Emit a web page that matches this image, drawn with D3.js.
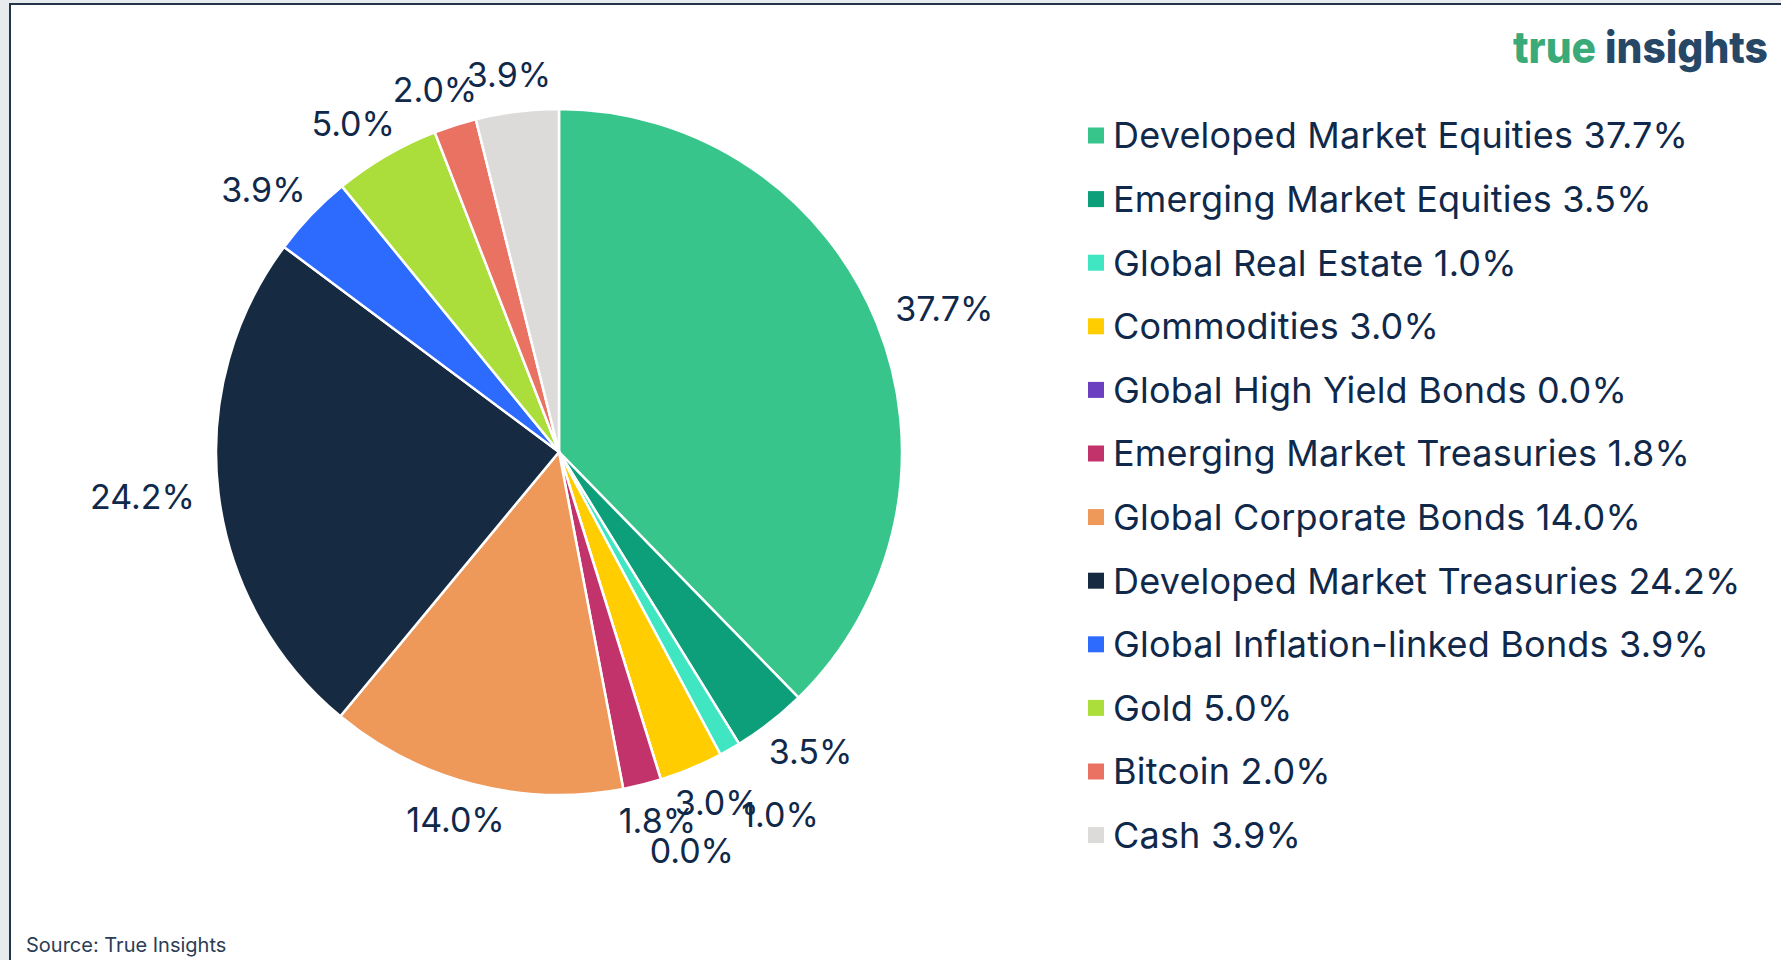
<!DOCTYPE html>
<html>
<head>
<meta charset="utf-8">
<script src="https://cdn.jsdelivr.net/npm/d3@7"></script>
<style>
  html, body { margin: 0; padding: 0; background: #e8ebee; }
  svg { display: block; }
</style>
</head>
<body>
<div id="chart"></div>
<script>
// data
var categories = [
  "Developed Market Equities",
  "Emerging Market Equities",
  "Global Real Estate",
  "Commodities",
  "Global High Yield Bonds",
  "Emerging Market Treasuries",
  "Global Corporate Bonds",
  "Developed Market Treasuries",
  "Global Inflation-linked Bonds",
  "Gold",
  "Bitcoin",
  "Cash"
];
var shares = [37.7, 3.5, 1.0, 3.0, 0.0, 1.8, 14.0, 24.2, 3.9, 5.0, 2.0, 3.9];
var sliceColors = [
  "#37c58c", "#0c9f7a", "#40e6c2", "#ffcd00", "#6b3fc0", "#c2336b",
  "#ee985a", "#162a42", "#2d6bff", "#abde3a", "#e97262", "#dddbd9"
];

var data = categories.map(function (c, i) {
  return { name: c, value: shares[i], color: sliceColors[i] };
});

var W = 1781, H = 960;
var textColor = "#10294a";
var font = "Inter, 'Open Sans', sans-serif";

var svg = d3
  .select("#chart")
  .append("svg")
  .attr("width", W)
  .attr("height", H);

// white panel with the dark frame on top and left
svg.append("rect")
  .attr("x", 10).attr("y", 4)
  .attr("width", W).attr("height", H)
  .attr("fill", "#ffffff");
svg.append("path")
  .attr("d", "M10," + H + " L10,4 L" + W + ",4")
  .attr("fill", "none")
  .attr("stroke", "#23344a")
  .attr("stroke-width", 2);

// pie
var cx = 559, cy = 452, radius = 343;

var pie = d3.pie()
  .sort(null)
  .value(function (d) { return d.value; });

var arc = d3.arc().innerRadius(0).outerRadius(radius);

var arcs = pie(data);

var g = svg.append("g").attr("transform", "translate(" + cx + "," + cy + ")");

g.selectAll("path.slice")
  .data(arcs)
  .enter()
  .append("path")
  .attr("class", "slice")
  .attr("d", arc)
  .attr("fill", function (d) { return d.data.color; })
  .attr("stroke", "#ffffff")
  .attr("stroke-width", 2.5)
  .attr("stroke-linejoin", "round");

// outside labels: anchored just outside the rim with the text box pushed outward.
// A label that hits its neighbour is staggered outward (zig-zag), unless the
// neighbour was itself staggered.
var labelGap = 24, labelH = 26, stagger = 38;
function boxAt(dx, dy, r, w) {
  var px = dx * r + dx * w / 2;
  var py = dy * r + dy * labelH / 2;
  return { x: px, y: py, x0: px - w / 2 + 9, x1: px + w / 2 - 9, y0: py - 17, y1: py + 17 };
}
var prev = null;
g.selectAll("text.pct")
  .data(arcs)
  .enter()
  .append("text")
  .attr("class", "pct")
  .style("font-family", font)
  .style("font-size", "34px")
  .style("fill", textColor)
  .attr("text-anchor", "middle")
  .attr("dy", "0.36em")
  .text(function (d) { return d.data.value.toFixed(1) + "%"; })
  .each(function (d) {
    var a = (d.startAngle + d.endAngle) / 2;
    var dx = Math.sin(a), dy = -Math.cos(a);
    var w = this.getComputedTextLength();
    var base = boxAt(dx, dy, radius + labelGap, w);
    var bumped = false;
    if (prev && !prev.bumped) {
      var p = prev.base;
      if (base.x0 < p.x1 && base.x1 > p.x0 && base.y0 < p.y1 && base.y1 > p.y0) bumped = true;
    }
    var b = bumped ? boxAt(dx, dy, radius + labelGap + stagger, w) : base;
    prev = { base: base, bumped: bumped };
    d3.select(this).attr("x", b.x).attr("y", b.y);
  });

// legend
var legendX = 1088, legendY = 135.5, rowH = 63.6, box = 16;
var legend = svg.append("g");
var rows = legend.selectAll("g.row")
  .data(data)
  .enter()
  .append("g")
  .attr("class", "row")
  .attr("transform", function (d, i) {
    return "translate(" + legendX + "," + (legendY + i * rowH) + ")";
  });
rows.append("rect")
  .attr("x", 0).attr("y", -box / 2)
  .attr("width", box).attr("height", box)
  .attr("fill", function (d) { return d.color; });
rows.append("text")
  .attr("x", 25)
  .attr("dy", "0.36em")
  .style("font-family", font)
  .style("font-size", "36px")
  .style("letter-spacing", "0.2px")
  .style("fill", textColor)
  .text(function (d) { return d.name + " " + d.value.toFixed(1) + "%"; });

// logo
var logo = svg.append("text")
  .attr("x", 1768)
  .attr("y", 63)
  .attr("text-anchor", "end")
  .style("font-family", font)
  .style("font-weight", 800)
  .style("font-size", "44px")
  .attr("textLength", 255)
  .attr("lengthAdjust", "spacingAndGlyphs");
logo.append("tspan").style("fill", "#3aaa78").text("true");
logo.append("tspan").style("fill", "#264766").text(" insights");

// source note
svg.append("text")
  .attr("x", 26)
  .attr("y", 952)
  .style("font-family", font)
  .style("font-size", "20px")
  .style("fill", "#2b3d55")
  .text("Source: True Insights");
</script>
</body>
</html>
